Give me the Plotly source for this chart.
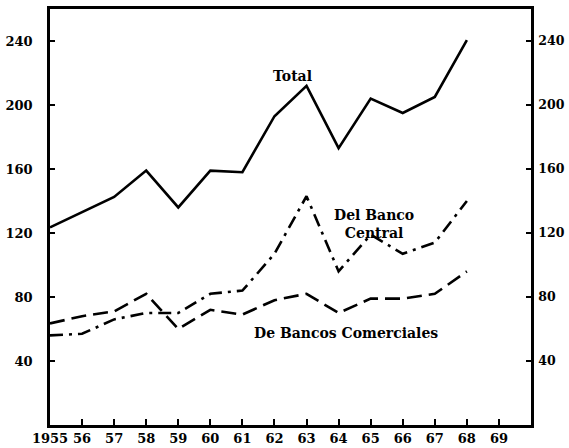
import plotly.graph_objects as go

years = list(range(1955, 1969))
total = [123.5, 133, 142.5, 159, 136, 159, 158, 193, 212, 173, 204, 195, 205, 240.5]
banco_central = [56, 57, 66, 70, 70, 82, 84, 107, 143, 96, 119, 107, 114, 140]
bancos_comerciales = [63.5, 68, 71, 82, 60, 72, 69, 78, 82, 70, 79, 79, 82, 96]

x_tickvals = list(range(1955, 1970))
x_ticktext = ["1955", "56", "57", "58", "59", "60", "61", "62", "63", "64",
              "65", "66", "67", "68", "69"]
y_tickvals = [40, 80, 120, 160, 200, 240]

FONT = "DejaVu Serif"
tickfont = dict(family=FONT, size=13, color="black", weight="bold")
lw = 2.6

fig = go.Figure()
fig.add_trace(go.Scatter(x=years, y=total, mode="lines",
                         line=dict(color="black", width=lw), showlegend=False))
fig.add_trace(go.Scatter(x=years, y=banco_central, mode="lines",
                         line=dict(color="black", width=lw, dash="13px,6px,3px,6px"),
                         showlegend=False))
fig.add_trace(go.Scatter(x=years, y=bancos_comerciales, mode="lines",
                         line=dict(color="black", width=lw, dash="15px,7px"),
                         showlegend=False))
# invisible trace to anchor the right-hand axis
fig.add_trace(go.Scatter(x=[years[0]], y=[total[0]], mode="none", yaxis="y2",
                         showlegend=False, hoverinfo="skip"))

annfont = dict(family=FONT, size=14, color="black", weight="bold")
fig.add_annotation(x=1962.55, y=218, text="Total", showarrow=False, font=annfont)
fig.add_annotation(x=1965.1, y=125.5, text="Del Banco<br>Central", showarrow=False,
                   font=annfont, align="center")
fig.add_annotation(x=1964.24, y=57.7, text="De Bancos Comerciales", showarrow=False,
                   font=annfont)

fig.update_layout(
    width=569, height=448,
    margin=dict(l=50, r=38, t=9, b=23),
    paper_bgcolor="white", plot_bgcolor="white",
    xaxis=dict(range=[1955, 1970], tickvals=x_tickvals, ticktext=x_ticktext,
               ticks="inside", ticklen=6, tickwidth=2, tickcolor="black",
               showline=True, linecolor="black", linewidth=2.6, mirror=True,
               showgrid=False, zeroline=False, tickfont=tickfont, automargin=False),
    yaxis=dict(range=[0, 260], tickvals=y_tickvals, ticks="inside", ticklen=5,
               tickwidth=2, tickcolor="black", showline=True, linecolor="black",
               linewidth=2.6, showgrid=False, zeroline=False, tickfont=tickfont,
               ticklabelstandoff=12, automargin=False),
    yaxis2=dict(range=[0, 260], tickvals=y_tickvals, ticks="inside", ticklen=5,
                tickwidth=2, tickcolor="black", overlaying="y", side="right",
                showline=True, linecolor="black", linewidth=2.6, showgrid=False,
                zeroline=False, tickfont=dict(family=FONT, size=12.5, color="black",
                                              weight="bold"),
                ticklabelstandoff=2, automargin=False),
)

# remove the default page margin so the 569x448 figure fills the window exactly
fig.write_html("out.html",
               config={"displayModeBar": False},
               post_script="document.body.style.margin='0';"
                           "document.body.style.overflow='hidden';")
